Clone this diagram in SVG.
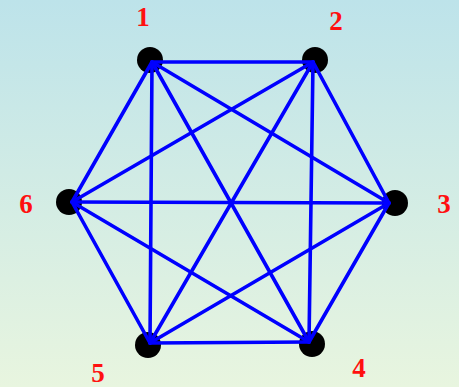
<svg xmlns="http://www.w3.org/2000/svg" width="459" height="387" viewBox="0 0 459 387">
<defs>
<linearGradient id="bg" x1="0" y1="0" x2="0" y2="1">
<stop offset="0" stop-color="#bde3ea"/>
<stop offset="1" stop-color="#e8f5df"/>
</linearGradient>
<style>
.dot{fill:#000}
.edge{stroke:#0000ff;stroke-width:3.6;stroke-linecap:round}
.lbl{font-family:"Liberation Serif","Times New Roman",serif;font-weight:bold;font-size:27px;fill:#ff1010;text-anchor:middle}
</style>
</defs>
<rect x="0" y="0" width="459" height="387" fill="url(#bg)"/>
<g id="n1"><circle class="dot" cx="150" cy="60" r="13"/><text class="lbl" x="143" y="26">1</text></g>
<g id="n2"><circle class="dot" cx="315" cy="60" r="13"/><text class="lbl" x="336" y="30">2</text></g>
<g id="n3"><circle class="dot" cx="395" cy="203" r="13"/><text class="lbl" x="444" y="213">3</text></g>
<g id="n4"><circle class="dot" cx="312" cy="344" r="13"/><text class="lbl" x="359" y="377">4</text></g>
<g id="n5"><circle class="dot" cx="148" cy="345" r="13"/><text class="lbl" x="98" y="382">5</text></g>
<g id="n6"><circle class="dot" cx="69" cy="202" r="13"/><text class="lbl" x="26" y="213">6</text></g>
<g id="edges">
<line class="edge" x1="152" y1="62" x2="313" y2="62"/>
<line class="edge" x1="152" y1="62" x2="389" y2="203"/>
<line class="edge" x1="152" y1="62" x2="309" y2="342"/>
<line class="edge" x1="152" y1="62" x2="150" y2="343"/>
<line class="edge" x1="152" y1="62" x2="72" y2="202"/>
<line class="edge" x1="313" y1="62" x2="389" y2="203"/>
<line class="edge" x1="313" y1="62" x2="309" y2="342"/>
<line class="edge" x1="313" y1="62" x2="150" y2="343"/>
<line class="edge" x1="313" y1="62" x2="72" y2="202"/>
<line class="edge" x1="389" y1="203" x2="309" y2="342"/>
<line class="edge" x1="389" y1="203" x2="150" y2="343"/>
<line class="edge" x1="389" y1="203" x2="72" y2="202"/>
<line class="edge" x1="309" y1="342" x2="150" y2="343"/>
<line class="edge" x1="309" y1="342" x2="72" y2="202"/>
<line class="edge" x1="150" y1="343" x2="72" y2="202"/>
</g>
</svg>
